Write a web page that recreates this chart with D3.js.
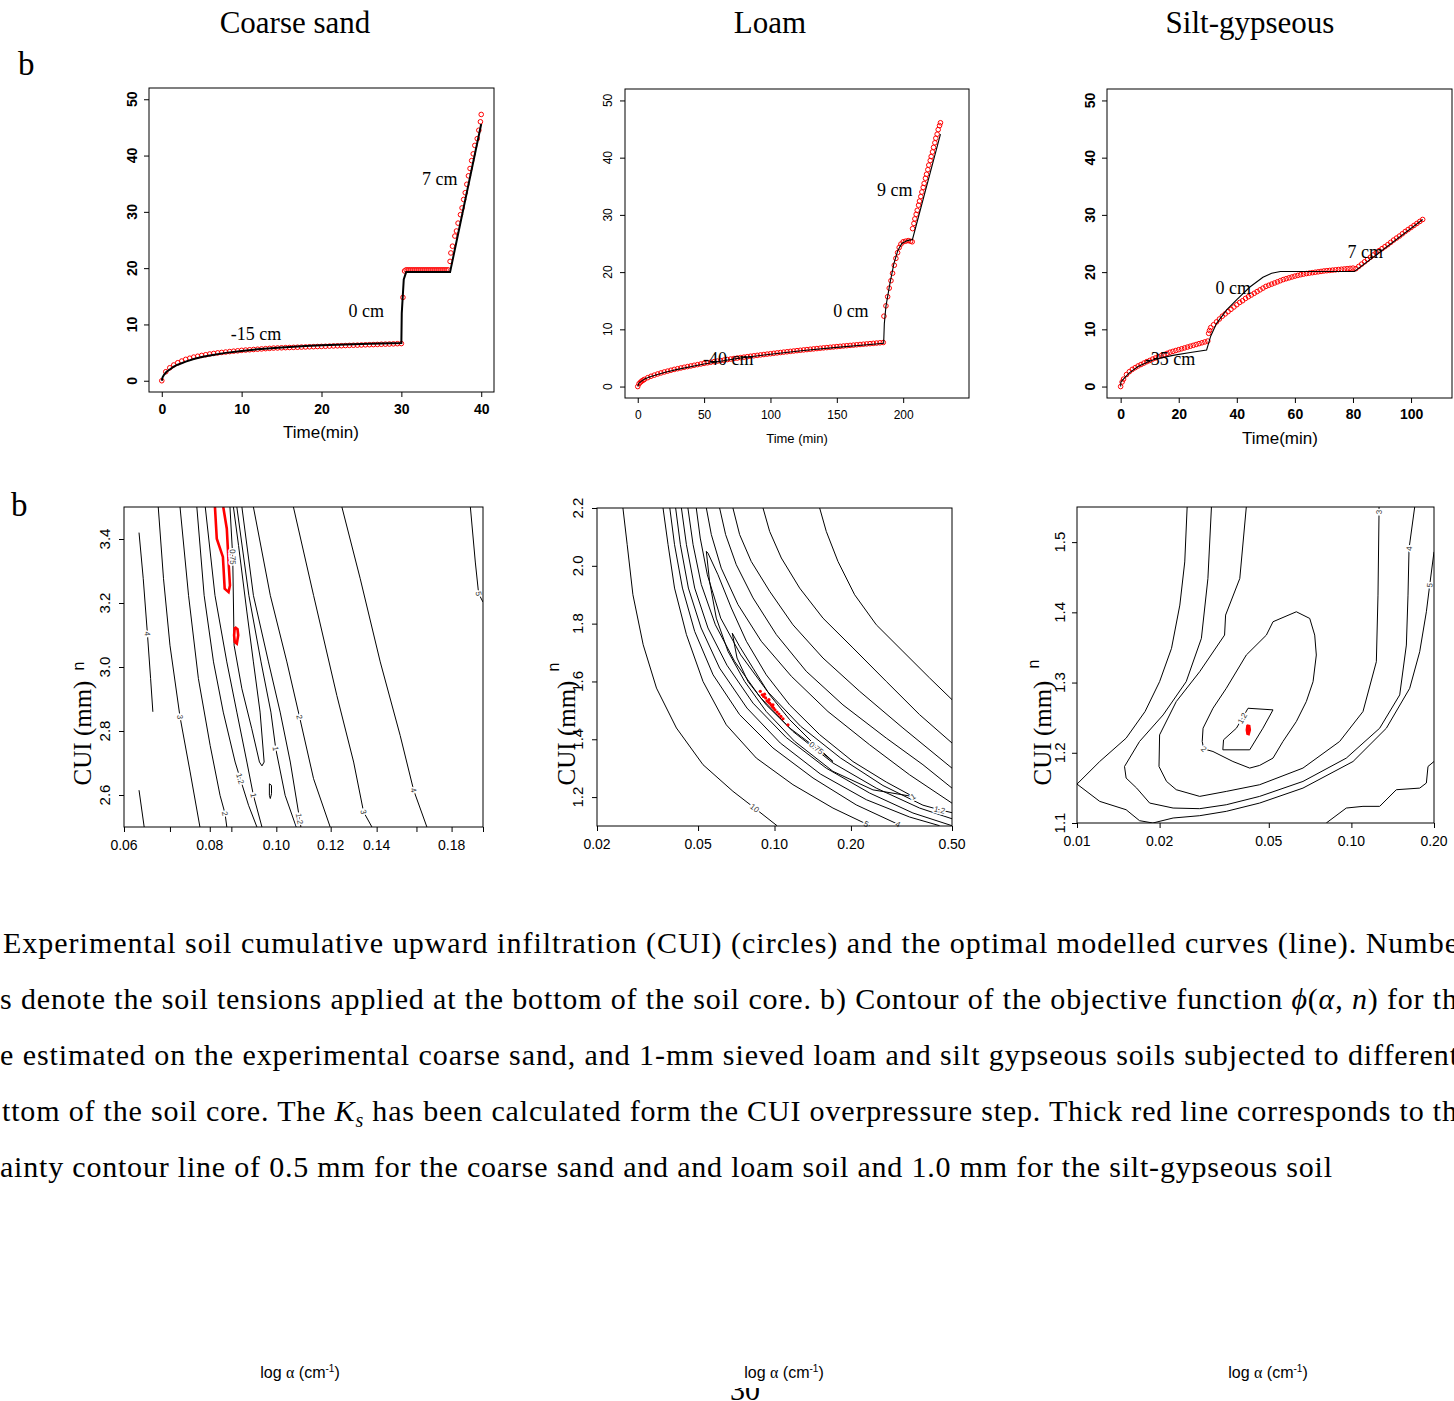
<!DOCTYPE html>
<html>
<head>
<meta charset="utf-8">
<script src="https://cdn.jsdelivr.net/npm/d3@7"></script>
<style>
  body { margin: 0; background: #fff; }
  svg { display: block; background: #fff; }
</style>
</head>
<body>
<svg id="fig" width="1454" height="1401"></svg>
<script>
// ---------- text ----------
var panelTitles = ["Coarse sand", "Loam", "Silt-gypseous"];
var cumTicks = [0, 10, 20, 30, 40, 50];
var sandTimeTicks = [0, 10, 20, 30, 40];
var loamTimeTicks = [0, 50, 100, 150, 200];
var siltTimeTicks = [0, 20, 40, 60, 80, 100];

// ---------- top row: CUI (mm) vs time (min) ----------
var sandObs = [[0,0],[0.5,1.6],[1,2.3],[1.5,2.8],[2,3.2],[2.5,3.5],[3,3.8],[3.5,4.0],[4,4.2],[4.5,4.35],[5,4.5],[5.5,4.62],[6,4.75],[6.5,4.85],[7,4.95],[7.5,5.03],[8,5.1],[8.5,5.18],[9,5.25],[9.5,5.32],[10,5.4],[10.5,5.45],[11,5.5],[11.5,5.55],[12,5.6],[12.5,5.65],[13,5.7],[13.5,5.75],[14,5.8],[14.5,5.82],[15,5.85],[15.5,5.88],[16,5.9],[16.5,5.93],[17,5.95],[17.5,5.98],[18,6.0],[18.5,6.03],[19,6.05],[19.5,6.08],[20,6.1],[20.5,6.12],[21,6.15],[21.5,6.18],[22,6.2],[22.5,6.22],[23,6.25],[23.5,6.28],[24,6.3],[24.5,6.32],[25,6.35],[25.5,6.38],[26,6.4],[26.5,6.42],[27,6.45],[27.5,6.48],[28,6.5],[28.5,6.52],[29,6.55],[29.5,6.58],[30,6.6],[30.2,14.8],[30.4,19.5],[30.6,19.7],[30.85,19.7],[31.1,19.7],[31.35,19.7],[31.6,19.7],[31.85,19.7],[32.1,19.7],[32.35,19.7],[32.6,19.7],[32.85,19.7],[33.1,19.7],[33.35,19.7],[33.6,19.7],[33.85,19.7],[34.1,19.7],[34.35,19.7],[34.6,19.7],[34.85,19.7],[35.1,19.7],[35.35,19.7],[35.6,19.7],[35.85,19.7],[36.1,21.2],[36.2,22.7],[36.4,23.9],[36.7,25.7],[36.9,26.6],[37.1,28.0],[37.4,29.5],[37.6,30.7],[37.8,32.2],[38.0,33.4],[38.2,34.9],[38.4,36.4],[38.6,37.7],[38.8,39.1],[39.0,40.3],[39.2,41.8],[39.5,43.0],[39.7,44.5],[39.9,46.0],[40.0,47.3]];
var sandModel = [[0,0],[0.1,0.6],[0.3,1.1],[0.6,1.6],[1,2.0],[1.5,2.5],[2,2.85],[3,3.4],[4,3.85],[5,4.2],[6,4.5],[8,4.95],[10,5.3],[12,5.6],[15,5.9],[18,6.15],[20,6.3],[23,6.45],[26,6.55],[30,6.7],[30.05,12],[30.3,18],[30.6,19.3],[36.1,19.3],[40,45.6]];
var sandSteps = [[11.8,7.2,"-15 cm"],[25.6,11.3,"0 cm"],[34.8,34.7,"7 cm"]];

var loamObs = [[0,0],[1,0.5],[2,0.75],[3,0.95],[4,1.1],[5,1.25],[7.5,1.55],[10,1.8],[12.5,2.0],[15,2.2],[17.5,2.38],[20,2.55],[22.5,2.7],[25,2.85],[27.5,3.0],[30,3.12],[32.5,3.25],[35,3.37],[37.5,3.49],[40,3.6],[42.5,3.72],[45,3.83],[47.5,3.94],[50,4.05],[52.5,4.15],[55,4.25],[57.5,4.35],[60,4.45],[62.5,4.54],[65,4.63],[67.5,4.72],[70,4.81],[72.5,4.9],[75,4.98],[77.5,5.06],[80,5.14],[82.5,5.22],[85,5.3],[87.5,5.38],[90,5.45],[92.5,5.53],[95,5.6],[97.5,5.67],[100,5.74],[102.5,5.81],[105,5.88],[107.5,5.95],[110,6.02],[112.5,6.08],[115,6.15],[117.5,6.21],[120,6.28],[122.5,6.34],[125,6.4],[127.5,6.46],[130,6.52],[132.5,6.58],[135,6.64],[137.5,6.7],[140,6.76],[142.5,6.81],[145,6.87],[147.5,6.92],[150,6.98],[152.5,7.03],[155,7.09],[157.5,7.14],[160,7.19],[162.5,7.24],[165,7.3],[167.5,7.35],[170,7.4],[172.5,7.45],[175,7.5],[177.5,7.55],[180,7.6],[182.5,7.65],[185,7.7],[185.5,12.3],[187,14.1],[188.3,15.7],[189.5,17.2],[190.8,18.5],[192,19.8],[193.3,21.2],[194.5,22.4],[195.8,23.4],[197,24.3],[198.3,24.9],[200,25.3],[201.8,25.4],[203.8,25.5],[205.6,25.4],[206.8,25.3],[207.1,27.6],[208.1,28.5],[208.8,29.3],[209.8,30.1],[210.6,30.8],[211.6,31.7],[212.3,32.4],[213.3,33.2],[214.1,34.0],[215.1,34.8],[215.8,35.5],[216.8,36.4],[217.6,37.1],[218.6,37.9],[219.3,38.7],[220.4,39.5],[221.1,40.2],[222.1,41.0],[222.9,41.8],[223.9,42.6],[224.6,43.4],[225.6,44.1],[226.4,44.9],[227.4,45.6],[228.1,46.1]];
var loamModel = [[0,0],[1,0.6],[3,1.0],[6,1.4],[10,1.75],[20,2.45],[30,3.0],[50,3.95],[75,4.9],[100,5.65],[125,6.3],[150,6.85],[175,7.35],[185.3,7.55],[185.8,11],[187,14],[190,18],[193,21.5],[196,23.8],[199,25],[203,25.5],[207,25.7],[228.1,44.1]];
var loamSteps = [[68.2,3.7,"-40 cm"],[160.6,12.2,"0 cm"],[193.7,33.3,"9 cm"]];

var siltObs = [[0,0],[0.5,0.8],[1,1.3],[2,2.1],[3,2.6],[4,3.0],[5,3.3],[6,3.6],[7,3.85],[8,4.1],[9,4.35],[10,4.55],[11,4.8],[12,5.0],[13,5.2],[14,5.4],[15,5.6],[16,5.8],[17,6.0],[18,6.15],[19,6.3],[20,6.45],[21,6.6],[22,6.75],[23,6.9],[24,7.05],[25,7.2],[26,7.35],[27,7.5],[28,7.65],[29,7.8],[30,7.95],[30.3,9.3],[30.6,9.8],[31,10.3],[32,10.8],[33,11.3],[34,11.8],[35,12.3],[36,12.7],[37,13.1],[38,13.5],[39,13.9],[40,14.3],[41,14.7],[42,15.0],[43,15.4],[44,15.7],[45,16.0],[46,16.3],[47,16.6],[48,16.9],[49,17.2],[50,17.5],[51,17.7],[52,17.9],[53,18.1],[54,18.3],[55,18.5],[56,18.7],[57,18.85],[58,19.0],[59,19.15],[60,19.3],[61,19.43],[62,19.55],[63,19.65],[64,19.75],[65,19.83],[66,19.9],[67,19.98],[68,20.05],[69,20.12],[70,20.2],[71,20.25],[72,20.3],[73,20.35],[74,20.4],[75,20.45],[76,20.5],[77,20.55],[78,20.6],[79,20.65],[80,20.7],[81,20.6],[82,21.0],[83,21.4],[84,21.8],[85,22.2],[86,22.6],[87,23.0],[88,23.4],[89,23.75],[90,24.1],[91,24.45],[92,24.8],[93,25.2],[94,25.6],[95,25.95],[96,26.3],[97,26.7],[98,27.1],[99,27.45],[100,27.8],[101,28.15],[102,28.5],[103,28.85],[104,29.2]];
var siltModel = [[0,0],[0.1,0.8],[1.5,1.6],[3,2.4],[6,3.5],[9,4.2],[12,4.8],[18,5.45],[24,5.95],[29.6,6.4],[30.3,7.6],[31,8.8],[33,11.0],[36.5,13.4],[40,15.2],[44.5,17.4],[49,19.1],[52,19.8],[55,20.1],[80.5,20.1],[104,29.2]];
var siltSteps = [[17,3.7,"-35 cm"],[38.8,16.2,"0 cm"],[84.2,22.4,"7 cm"]];

// ---------- bottom row: objective function contours over (alpha, n) ----------
var sandAlphaTicks = [0.06, 0.07, 0.08, 0.086, 0.10, 0.12, 0.14, 0.16, 0.18, 0.20];
var sandAlphaLabels = [0.06, 0.08, 0.10, 0.12, 0.14, 0.18];
var sandNTicks = [2.6, 2.8, 3.0, 3.2, 3.4];
var loamAlphaTicks = [0.02, 0.05, 0.10, 0.20, 0.50];
var loamNTicks = [1.2, 1.4, 1.6, 1.8, 2.0, 2.2];
var siltAlphaTicks = [0.01, 0.02, 0.05, 0.10, 0.20];
var siltNTicks = [1.1, 1.2, 1.3, 1.4, 1.5];

var sandContours = [
  { lab: "4", at: 2, pts: [[0.0631,3.42],[0.0640,3.276],[0.0649,3.104],[0.0656,2.964],[0.0661,2.86]] },
  { lab: null, pts: [[0.0631,2.615],[0.0642,2.5]] },
  { lab: "3", at: 3, pts: [[0.0673,3.5],[0.0685,3.276],[0.0700,3.068],[0.0724,2.844],[0.0749,2.672],[0.0774,2.5]] },
  { lab: "2", at: 5, pts: [[0.0724,3.5],[0.0745,3.224],[0.0770,2.964],[0.0801,2.755],[0.0828,2.599],[0.0842,2.542],[0.0847,2.5]] },
  { lab: "1.2", at: 5, pts: [[0.0766,3.5],[0.0785,3.224],[0.0810,3.016],[0.0837,2.859],[0.0871,2.703],[0.0886,2.651],[0.0911,2.568],[0.0937,2.5]] },
  { lab: "1", at: 5, pts: [[0.0788,3.5],[0.0814,3.224],[0.0847,3.016],[0.0876,2.859],[0.0906,2.703],[0.0926,2.599],[0.0953,2.5]] },
  { lab: "0.75", at: 1, pts: [[0.0856,3.5],[0.0864,3.344],[0.0868,3.068],[0.0891,2.932],[0.0921,2.807],[0.0945,2.703],[0.0953,2.691],[0.0960,2.703],[0.0947,2.859],[0.0926,3.016],[0.0906,3.172],[0.0881,3.380],[0.0866,3.5]] },
  { lab: "1", at: 4, pts: [[0.0876,3.5],[0.0912,3.224],[0.0950,3.016],[0.0982,2.859],[0.0998,2.745],[0.1030,2.599],[0.1069,2.5]] },
  { lab: "1.2", at: 5, pts: [[0.0891,3.5],[0.0926,3.224],[0.0974,3.016],[0.1013,2.859],[0.1048,2.703],[0.1081,2.526],[0.1086,2.5]] },
  { lab: "2", at: 3, pts: [[0.0926,3.5],[0.0980,3.224],[0.1036,3.016],[0.1081,2.844],[0.1133,2.651],[0.1198,2.5]] },
  { lab: "3", at: 4, pts: [[0.1059,3.5],[0.1133,3.224],[0.1225,2.911],[0.1296,2.703],[0.1340,2.547],[0.1378,2.5]] },
  { lab: "4", at: 4, pts: [[0.1246,3.5],[0.1325,3.276],[0.1417,3.016],[0.1515,2.786],[0.1585,2.615],[0.1657,2.5]] },
  { lab: "5", at: 2, pts: [[0.1917,3.5],[0.1949,3.328],[0.1971,3.229],[0.2,3.203]] },
  { lab: null, pts: [[0.0977,2.635],[0.0984,2.630],[0.0984,2.604],[0.0980,2.589],[0.0977,2.599],[0.0977,2.635]] }
];
var sandBest = [
  [[0.0814,3.5],[0.0819,3.401],[0.0836,3.344],[0.0841,3.245],[0.0852,3.234],[0.0856,3.255],[0.0852,3.328],[0.0847,3.432],[0.0837,3.5]],
  [[0.0870,3.125],[0.0878,3.118],[0.0880,3.099],[0.0876,3.073],[0.0870,3.078],[0.0868,3.099],[0.0870,3.125]]
];

var loamContours = [
  { lab: "10", at: 8, pts: [[0.0253,2.2],[0.0263,2.073],[0.0277,1.9],[0.0304,1.727],[0.0343,1.577],[0.0411,1.439],[0.0523,1.312],[0.0686,1.22],[0.0835,1.162],[0.1023,1.101]] },
  { lab: "5", at: 9, pts: [[0.0364,2.2],[0.0381,2.073],[0.0404,1.923],[0.0450,1.762],[0.0523,1.6],[0.0646,1.45],[0.0848,1.335],[0.1182,1.243],[0.1699,1.162],[0.2299,1.107],[0.2369,1.101]] },
  { lab: "4", at: 9, pts: [[0.0387,2.2],[0.0404,2.073],[0.0434,1.923],[0.0485,1.773],[0.0573,1.623],[0.0729,1.485],[0.0986,1.37],[0.1418,1.266],[0.2099,1.173],[0.3063,1.106],[0.311,1.101]] },
  { lab: null, pts: [[0.0408,2.2],[0.0426,2.073],[0.0458,1.923],[0.0514,1.785],[0.0608,1.646],[0.0779,1.508],[0.1054,1.387],[0.1515,1.28],[0.2299,1.191],[0.3405,1.131],[0.4469,1.101]] },
  { lab: null, pts: [[0.0430,2.2],[0.0450,2.073],[0.0485,1.923],[0.0547,1.785],[0.065,1.656],[0.0823,1.525],[0.1113,1.406],[0.1599,1.3],[0.2369,1.214],[0.3509,1.145],[0.5,1.101]] },
  { lab: null, pts: [[0.0456,2.2],[0.0478,2.073],[0.0515,1.935],[0.0585,1.796],[0.0697,1.669],[0.0879,1.545],[0.1182,1.427],[0.1699,1.318],[0.2517,1.231],[0.3728,1.162],[0.5,1.125]] },
  { lab: "1.2", at: 10, pts: [[0.0492,2.2],[0.0510,2.096],[0.0544,1.969],[0.0614,1.819],[0.0736,1.692],[0.0937,1.566],[0.1267,1.445],[0.1822,1.335],[0.2674,1.240],[0.3842,1.172],[0.4469,1.156],[0.5,1.146]] },
  { lab: "1", at: 9, pts: [[0.0539,2.05],[0.0555,1.946],[0.059,1.819],[0.0656,1.704],[0.0763,1.6],[0.0928,1.496],[0.12,1.393],[0.1699,1.289],[0.2442,1.225],[0.3509,1.202],[0.2756,1.252],[0.2037,1.323],[0.1506,1.416],[0.1147,1.519],[0.0928,1.623],[0.0775,1.739],[0.0676,1.854],[0.0599,1.969],[0.0547,2.044],[0.0539,2.05]] },
  { lab: "0.75", at: 5, pts: [[0.0682,1.767],[0.0712,1.681],[0.0786,1.6],[0.0928,1.519],[0.1147,1.439],[0.1461,1.37],[0.1699,1.323],[0.1418,1.387],[0.1147,1.468],[0.0957,1.554],[0.0823,1.646],[0.0729,1.721],[0.0682,1.767]] },
  { lab: null, pts: [[0.0539,2.2],[0.0564,2.108],[0.0617,1.992],[0.0718,1.866],[0.0887,1.739],[0.1165,1.618],[0.1624,1.496],[0.2369,1.381],[0.3405,1.277],[0.5,1.179]] },
  { lab: null, pts: [[0.0608,2.2],[0.0642,2.108],[0.0707,2.004],[0.0823,1.889],[0.1017,1.762],[0.1334,1.635],[0.186,1.519],[0.2756,1.404],[0.3842,1.312],[0.5,1.231]] },
  { lab: null, pts: [[0.0686,2.2],[0.0729,2.108],[0.081,2.015],[0.0957,1.912],[0.1182,1.796],[0.1552,1.681],[0.2164,1.566],[0.3205,1.439],[0.5,1.3]] },
  { lab: null, pts: [[0.0901,2.2],[0.0957,2.119],[0.1064,2.027],[0.1256,1.923],[0.1552,1.819],[0.2037,1.716],[0.2756,1.6],[0.3728,1.485],[0.5,1.387]] },
  { lab: null, pts: [[0.1506,2.2],[0.1599,2.119],[0.1778,2.015],[0.2068,1.9],[0.2517,1.796],[0.3205,1.704],[0.4082,1.612],[0.5,1.537]] }
];
var loamBest = [[0.0879,1.566],[0.0895,1.554],[0.0906,1.548],[0.0923,1.543],[0.0934,1.533],[0.0945,1.529],[0.0957,1.525],[0.0969,1.519],[0.098,1.513],[0.0992,1.508],[0.1004,1.502],[0.1023,1.494],[0.1041,1.487],[0.106,1.479],[0.108,1.471],[0.113,1.45],[0.0914,1.556],[0.0951,1.537],[0.0986,1.519]];

var siltContours = [
  { lab: null, pts: [[0.0252,1.55],[0.0247,1.4718],[0.0237,1.4103],[0.0221,1.3487],[0.0200,1.3013],[0.0177,1.2587],[0.0151,1.2208],[0.0121,1.1876],[0.01,1.1554]] },
  { lab: "5", at: 15, pts: [[0.01,1.1554],[0.0121,1.1308],[0.0151,1.1189],[0.0169,1.1033],[0.0189,1.1],[0.0224,1.1071],[0.028,1.1104],[0.035,1.1166],[0.0463,1.1284],[0.0666,1.1497],[0.1014,1.1876],[0.1341,1.235],[0.1631,1.2918],[0.1774,1.3439],[0.1876,1.4008],[0.1929,1.4387],[0.2,1.4861]] },
  { lab: "4", at: 20, pts: [[0.0309,1.55],[0.0300,1.4482],[0.0284,1.3629],[0.025,1.3013],[0.0206,1.2539],[0.0169,1.2161],[0.0149,1.1805],[0.0151,1.164],[0.0165,1.1497],[0.0184,1.1284],[0.0224,1.1213],[0.028,1.1204],[0.035,1.126],[0.0463,1.1379],[0.0666,1.1592],[0.0958,1.1924],[0.1268,1.235],[0.15,1.2824],[0.1586,1.3534],[0.1608,1.4245],[0.1622,1.4908],[0.1701,1.55]] },
  { lab: "3", at: 18, pts: [[0.0414,1.55],[0.0392,1.4482],[0.0348,1.3961],[0.0345,1.3676],[0.028,1.3155],[0.023,1.2729],[0.02,1.2255],[0.0199,1.1805],[0.0212,1.1592],[0.023,1.1474],[0.028,1.1379],[0.035,1.145],[0.0463,1.1545],[0.0666,1.1782],[0.0906,1.2161],[0.1102,1.2587],[0.1233,1.3297],[0.125,1.4245],[0.1261,1.5429],[0.1261,1.55]] },
  { lab: "2", at: 13, pts: [[0.063,1.4008],[0.0705,1.3913],[0.0735,1.3676],[0.0745,1.3392],[0.0725,1.3013],[0.0685,1.2729],[0.063,1.2445],[0.0563,1.2161],[0.0518,1.1924],[0.0463,1.182],[0.0426,1.1782],[0.037,1.1876],[0.0313,1.2018],[0.02895,1.2056],[0.0286,1.2161],[0.0288,1.235],[0.0313,1.2634],[0.035,1.2918],[0.0414,1.3392],[0.049,1.3676],[0.0518,1.3866],[0.063,1.4008]] },
  { lab: "1.2", at: 7, pts: [[0.042,1.2634],[0.0518,1.2611],[0.0476,1.235],[0.0426,1.2042],[0.034,1.2042],[0.0342,1.2184],[0.0381,1.235],[0.04005,1.2492],[0.042,1.2634]] },
  { lab: null, pts: [[0.081,1.1],[0.0958,1.1213],[0.1102,1.1237],[0.1268,1.1237],[0.1458,1.1474],[0.1774,1.1497],[0.1876,1.1569],[0.1902,1.1805],[0.2,1.1876]] }
];
var siltBest = [[0.04165,1.2397],[0.0426,1.2388],[0.04283,1.2326],[0.04235,1.2255],[0.04165,1.2265],[0.0414,1.2326],[0.04165,1.2397]];

// ---------- caption ----------
var caption = [
  [["Experimental soil cumulative upward infiltration (CUI) (circles) and the optimal modelled curves (line). Numbe"]],
  [["s denote the soil tensions applied at the bottom of the soil core. b) Contour of the objective function "], ["\u03d5", "i"], ["("], ["\u03b1", "i"], [", "], ["n", "i"], [") for th"]],
  [["e estimated on the experimental coarse sand, and 1-mm sieved loam and silt gypseous soils subjected to different"]],
  [["ttom of the soil core. The "], ["K", "i"], ["s", "sub"], [" has been calculated form the CUI overpressure step. Thick red line corresponds to th"]],
  [["ainty contour line of 0.5 mm for the coarse sand and and loam soil and 1.0 mm for the silt-gypseous soil"]]
];

var SERIF = '"Liberation Serif","Times New Roman",serif';
var SANS = '"Liberation Sans",Arial,Helvetica,sans-serif';
var svg = d3.select('#fig');
var clipCount = 0;

function rotText( g, x, y, txt, size, weight, family ) {
  return g.append( 'text' )
    .attr( 'transform', 'translate(' + x + ',' + y + ') rotate(-90)' )
    .attr( 'text-anchor', 'middle' )
    .attr( 'font-family', family || SANS )
    .attr( 'font-size', size )
    .attr( 'font-weight', weight || 'normal' )
    .text( txt );
}

function addClip( box ) {
  var id = 'clip' + ( clipCount++ );
  svg.append( 'clipPath' ).attr( 'id', id )
    .append( 'rect' )
      .attr( 'x', box[0] ).attr( 'y', box[1] )
      .attr( 'width', box[2] - box[0] ).attr( 'height', box[3] - box[1] );
  return 'url(#' + id + ')';
}

function frame( g, box ) {
  g.append( 'rect' )
    .attr( 'x', box[0] ).attr( 'y', box[1] )
    .attr( 'width', box[2] - box[0] ).attr( 'height', box[3] - box[1] )
    .attr( 'fill', 'none' ).attr( 'stroke', '#000' ).attr( 'stroke-width', 1 );
}

// one time series panel
function drawSeries( o ) {
  var g = svg.append( 'g' );
  var box = o.box;
  var x = d3.scaleLinear().domain( o.xDom ).range( [ box[0], box[2] ] );
  var y = d3.scaleLinear().domain( [ -2, 52 ] ).range( [ box[3], box[1] ] );
  var clip = addClip( box );

  g.append( 'g' ).attr( 'clip-path', clip )
    .selectAll( 'circle' ).data( o.obs ).join( 'circle' )
      .attr( 'cx', function( d ) { return x( d[0] ); } )
      .attr( 'cy', function( d ) { return y( d[1] ); } )
      .attr( 'r', 2.3 )
      .attr( 'fill', 'none' )
      .attr( 'stroke', '#f00' )
      .attr( 'stroke-width', 1 );

  var line = d3.line()
    .x( function( d ) { return x( d[0] ); } )
    .y( function( d ) { return y( d[1] ); } );
  g.append( 'path' )
    .attr( 'clip-path', clip )
    .attr( 'd', line( o.model ) )
    .attr( 'fill', 'none' )
    .attr( 'stroke', '#000' )
    .attr( 'stroke-width', o.lw );

  frame( g, box );

  var xa = g.append( 'g' )
    .attr( 'transform', 'translate(0,' + box[3] + ')' )
    .call( d3.axisBottom( x ).tickValues( o.xTicks ).tickSize( 5 ).tickSizeOuter( 0 ).tickFormat( d3.format( 'd' ) ) );
  xa.select( '.domain' ).remove();
  xa.selectAll( 'line' ).attr( 'stroke', '#000' );
  xa.selectAll( 'text' )
    .attr( 'y', o.xLabY - box[3] ).attr( 'dy', null )
    .attr( 'fill', '#000' )
    .attr( 'font-family', SANS )
    .attr( 'font-size', o.fs )
    .attr( 'font-weight', o.fw );

  var ya = g.append( 'g' )
    .attr( 'transform', 'translate(' + box[0] + ',0)' )
    .call( d3.axisLeft( y ).tickValues( cumTicks ).tickSize( 5 ).tickSizeOuter( 0 ).tickFormat( '' ) );
  ya.select( '.domain' ).remove();
  ya.selectAll( 'line' ).attr( 'stroke', '#000' );
  cumTicks.forEach( function( v ) {
    rotText( g, o.yLabX, y( v ), v, o.fs, o.fw );
  } );

  g.append( 'text' )
    .attr( 'x', o.tLab[0] ).attr( 'y', o.tLab[1] )
    .attr( 'text-anchor', 'middle' )
    .attr( 'font-family', SANS ).attr( 'font-size', o.tLab[3] )
    .text( o.tLab[2] );

  g.selectAll( 'text.step' ).data( o.steps ).join( 'text' )
    .attr( 'class', 'step' )
    .attr( 'x', function( d ) { return x( d[0] ); } )
    .attr( 'y', function( d ) { return y( d[1] ); } )
    .attr( 'text-anchor', 'middle' )
    .attr( 'font-family', SERIF )
    .attr( 'font-size', 18 )
    .text( function( d ) { return d[2]; } );
}

// one contour panel
function drawContours( o ) {
  var g = svg.append( 'g' );
  var box = o.box;
  var x = d3.scaleLog().domain( o.xDom ).range( [ box[0], box[2] ] );
  var y = d3.scaleLinear().domain( o.yDom ).range( [ box[3], box[1] ] );
  var clip = addClip( box );
  var line = d3.line()
    .x( function( d ) { return x( d[0] ); } )
    .y( function( d ) { return y( d[1] ); } );

  var cg = g.append( 'g' ).attr( 'clip-path', clip );
  o.lines.forEach( function( c ) {
    cg.append( 'path' ).attr( 'd', line( c.pts ) )
      .attr( 'fill', 'none' ).attr( 'stroke', '#000' ).attr( 'stroke-width', 1 );
  } );

  // labels sit in a gap of the line
  o.lines.forEach( function( c ) {
    if ( !c.lab ) return;
    var p = c.pts[c.at];
    var a = c.pts[Math.max( c.at - 1, 0 )];
    var b = c.pts[Math.min( c.at + 1, c.pts.length - 1 )];
    var ang = Math.atan2( y( b[1] ) - y( a[1] ), x( b[0] ) - x( a[0] ) ) * 180 / Math.PI;
    if ( ang > 90 ) ang -= 180;
    if ( ang < -90 ) ang += 180;
    g.append( 'text' )
      .attr( 'transform', 'translate(' + x( p[0] ) + ',' + y( p[1] ) + ') rotate(' + ang + ')' )
      .attr( 'text-anchor', 'middle' )
      .attr( 'dy', '0.35em' )
      .attr( 'font-family', SANS )
      .attr( 'font-size', 8 )
      .attr( 'fill', '#333' )
      .attr( 'stroke', '#fff' )
      .attr( 'stroke-width', 3 )
      .attr( 'paint-order', 'stroke' )
      .text( c.lab );
  } );

  if ( o.bestLines ) {
    o.bestLines.forEach( function( pts ) {
      cg.append( 'path' ).attr( 'd', line( pts ) )
        .attr( 'fill', 'none' ).attr( 'stroke', '#f00' ).attr( 'stroke-width', 2.6 );
    } );
  }
  if ( o.bestDots ) {
    cg.selectAll( 'circle' ).data( o.bestDots ).join( 'circle' )
      .attr( 'cx', function( d ) { return x( d[0] ); } )
      .attr( 'cy', function( d ) { return y( d[1] ); } )
      .attr( 'r', 1.6 ).attr( 'fill', '#f00' );
  }
  if ( o.bestBlob ) {
    cg.append( 'path' ).attr( 'd', line( o.bestBlob ) )
      .attr( 'fill', '#f00' ).attr( 'stroke', '#f00' ).attr( 'stroke-width', 1.5 );
  }

  frame( g, box );

  var xa = g.append( 'g' )
    .attr( 'transform', 'translate(0,' + box[3] + ')' )
    .call( d3.axisBottom( x ).tickValues( o.xTicks ).tickSize( 5 ).tickSizeOuter( 0 ).tickFormat( '' ) );
  xa.select( '.domain' ).remove();
  xa.selectAll( 'line' ).attr( 'stroke', '#000' );
  g.selectAll( 'text.xl' ).data( o.xLabels ).join( 'text' )
    .attr( 'class', 'xl' )
    .attr( 'x', function( d ) { return x( d ); } )
    .attr( 'y', o.xLabY )
    .attr( 'text-anchor', 'middle' )
    .attr( 'font-family', SANS ).attr( 'font-size', 14 )
    .text( d3.format( '.2f' ) );

  var ya = g.append( 'g' )
    .attr( 'transform', 'translate(' + box[0] + ',0)' )
    .call( d3.axisLeft( y ).tickValues( o.yTicks ).tickSize( 5 ).tickSizeOuter( 0 ).tickFormat( '' ) );
  ya.select( '.domain' ).remove();
  ya.selectAll( 'line' ).attr( 'stroke', '#000' );
  o.yTicks.forEach( function( v ) {
    rotText( g, o.yLabX, y( v ), d3.format( '.1f' )( v ), 15 );
  } );

  rotText( g, o.cuiX, 733, 'CUI (mm)', 25, 'normal', SERIF );
  rotText( g, o.nPos[0], o.nPos[1], 'n', 16 );
}

// ---------- headings ----------
[ 295, 770, 1250 ].forEach( function( cx, i ) {
  svg.append( 'text' )
    .attr( 'x', cx ).attr( 'y', 33 )
    .attr( 'text-anchor', 'middle' )
    .attr( 'font-family', SERIF ).attr( 'font-size', 31 )
    .text( panelTitles[i] );
} );
svg.append( 'text' ).attr( 'x', 18 ).attr( 'y', 75 )
  .attr( 'font-family', SERIF ).attr( 'font-size', 33 ).text( 'b' );
svg.append( 'text' ).attr( 'x', 11 ).attr( 'y', 516 )
  .attr( 'font-family', SERIF ).attr( 'font-size', 33 ).text( 'b' );

// ---------- top row ----------
drawSeries( {
  box: [ 149, 88, 494, 392 ], xDom: [ -1.6, 41.6 ], xTicks: sandTimeTicks,
  obs: sandObs, model: sandModel, steps: sandSteps, lw: 2,
  fs: 14, fw: 'bold', xLabY: 414, yLabX: 137,
  tLab: [ 321, 438, 'Time(min)', 17 ]
} );
drawSeries( {
  box: [ 625, 89, 969, 398 ], xDom: [ -9.6, 249.6 ], xTicks: loamTimeTicks,
  obs: loamObs, model: loamModel, steps: loamSteps, lw: 1.1,
  fs: 12, fw: 'normal', xLabY: 419, yLabX: 612,
  tLab: [ 797, 443, 'Time (min)', 13 ]
} );
drawSeries( {
  box: [ 1107, 89, 1452, 398 ], xDom: [ -4.7, 114.1 ], xTicks: siltTimeTicks,
  obs: siltObs, model: siltModel, steps: siltSteps, lw: 1.1,
  fs: 14, fw: 'bold', xLabY: 419, yLabX: 1095,
  tLab: [ 1280, 444, 'Time(min)', 17 ]
} );

// ---------- bottom row ----------
drawContours( {
  box: [ 124, 507, 483, 827 ], xDom: [ 0.06, 0.20 ], yDom: [ 2.5, 3.5 ],
  xTicks: sandAlphaTicks, xLabels: sandAlphaLabels, yTicks: sandNTicks,
  lines: sandContours, bestLines: sandBest,
  xLabY: 850, yLabX: 110, cuiX: 91, nPos: [ 84, 666 ]
} );
drawContours( {
  box: [ 597, 508, 952, 826 ], xDom: [ 0.02, 0.50 ], yDom: [ 1.1, 2.2 ],
  xTicks: loamAlphaTicks, xLabels: loamAlphaTicks, yTicks: loamNTicks,
  lines: loamContours, bestDots: loamBest,
  xLabY: 849, yLabX: 583, cuiX: 575, nPos: [ 559, 667 ]
} );
drawContours( {
  box: [ 1077, 507, 1434, 823 ], xDom: [ 0.01, 0.20 ], yDom: [ 1.1, 1.55 ],
  xTicks: siltAlphaTicks, xLabels: siltAlphaTicks, yTicks: siltNTicks,
  lines: siltContours, bestBlob: siltBest,
  xLabY: 846, yLabX: 1065, cuiX: 1051, nPos: [ 1039, 664 ]
} );

// ---------- caption ----------
var capStart = [ 3, 0, 0, 2, 0 ];
var capEnd = [ 1458, 1457, 1458, 1457, 1332 ];
caption.forEach( function( segs, i ) {
  var t = svg.append( 'text' )
    .attr( 'x', capStart[i] ).attr( 'y', 953 + i * 56 )
    .attr( 'font-family', SERIF ).attr( 'font-size', 30 )
    .attr( 'textLength', capEnd[i] - capStart[i] )
    .attr( 'lengthAdjust', 'spacing' );
  var shifted = false;
  segs.forEach( function( s ) {
    var sp = t.append( 'tspan' ).text( s[0] );
    if ( s[1] === 'i' || s[1] === 'sub' ) sp.attr( 'font-style', 'italic' );
    if ( s[1] === 'sub' ) { sp.attr( 'font-size', 20 ).attr( 'dy', 6 ); shifted = true; }
    else if ( shifted ) { sp.attr( 'dy', -6 ); shifted = false; }
  } );
} );

// page number, top half hidden behind the figure area
svg.append( 'text' ).attr( 'x', 745 ).attr( 'y', 1400 )
  .attr( 'text-anchor', 'middle' )
  .attr( 'font-family', SERIF ).attr( 'font-size', 30 ).text( '30' );
svg.append( 'rect' ).attr( 'x', 715 ).attr( 'y', 1360 )
  .attr( 'width', 60 ).attr( 'height', 28 ).attr( 'fill', '#fff' );

// stray axis titles of the contour plots
[ 300, 784, 1268 ].forEach( function( cx ) {
  var t = svg.append( 'text' )
    .attr( 'x', cx ).attr( 'y', 1378 )
    .attr( 'text-anchor', 'middle' )
    .attr( 'font-family', SANS ).attr( 'font-size', 16 );
  t.append( 'tspan' ).text( 'log ' );
  t.append( 'tspan' ).attr( 'font-family', SERIF ).text( '\u03b1' );
  t.append( 'tspan' ).text( ' (cm' );
  t.append( 'tspan' ).attr( 'font-size', 10 ).attr( 'dy', -6 ).text( '-1' );
  t.append( 'tspan' ).attr( 'dy', 6 ).text( ')' );
} );
</script>
</body>
</html>
